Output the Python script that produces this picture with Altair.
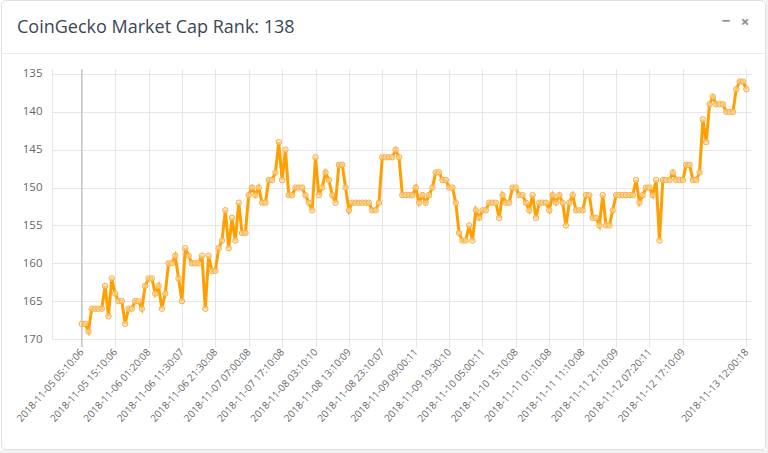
import json
import altair as alt
import pandas as pd

# ---------------- data ----------------
rank = [
    168, 168, 169, 166, 166, 166, 166, 163, 167, 162,
    164, 165, 165, 168, 166, 166, 165, 165, 166, 163,
    162, 162, 164, 163, 166, 164, 160, 160, 159, 162,
    165, 158, 159, 160, 160, 160, 159, 166, 159, 161,
    161, 158, 157, 153, 158, 154, 157, 152, 156, 156,
    151, 150, 151, 150, 152, 152, 149, 149, 148, 144,
    149, 145, 151, 151, 150, 150, 150, 151, 152, 153,
    146, 151, 150, 148, 149, 151, 152, 147, 147, 150,
    153, 152, 152, 152, 152, 152, 152, 153, 153, 152,
    146, 146, 146, 146, 145, 146, 151, 151, 151, 151,
    150, 152, 151, 152, 151, 150, 148, 148, 149, 149,
    150, 150, 152, 156, 157, 157, 155, 157, 153, 154,
    153, 153, 152, 152, 152, 154, 151, 152, 152, 150,
    150, 151, 151, 152, 153, 151, 154, 152, 152, 152,
    153, 151, 152, 151, 152, 155, 152, 151, 153, 153,
    153, 151, 151, 154, 154, 155, 151, 155, 155, 153,
    151, 151, 151, 151, 151, 151, 149, 152, 151, 150,
    150, 151, 149, 157, 149, 149, 149, 148, 149, 149,
    149, 147, 147, 149, 149, 148, 141, 144, 139, 138,
    139, 139, 139, 140, 140, 140, 137, 136, 136, 137,
]

tick_idx = [0, 10, 20, 30, 40, 50, 60, 70, 80, 90, 100, 110, 120, 130,
            140, 150, 160, 170, 180, 199]
tick_labels = [
    "2018-11-05 05:10:06", "2018-11-05 15:10:06", "2018-11-06 01:20:08",
    "2018-11-06 11:30:07", "2018-11-06 21:30:08", "2018-11-07 07:00:08",
    "2018-11-07 17:10:08", "2018-11-08 03:10:10", "2018-11-08 13:10:09",
    "2018-11-08 23:10:07", "2018-11-09 09:00:11", "2018-11-09 19:30:10",
    "2018-11-10 05:00:11", "2018-11-10 15:10:08", "2018-11-11 01:10:08",
    "2018-11-11 11:10:08", "2018-11-11 21:10:09", "2018-11-12 07:20:11",
    "2018-11-12 17:10:09", "2018-11-13 12:00:18",
]
y_ticks = [135, 140, 145, 150, 155, 160, 165, 170]
current_rank = 138
title_text = f"CoinGecko Market Cap Rank: {current_rank}"

df = pd.DataFrame({"i": list(range(len(rank))), "rank": rank})

# ---------------- layout ----------------
W, H = 700, 270
LEFT, TOP = 52, 69
GRID = "#e6e6e6"
LABEL = "#666666"
FONT = "Open Sans"

x_scale = alt.Scale(domain=[-8.9, 200.7], nice=False, zero=False)
y_scale = alt.Scale(domain=[134.34, 170], nice=False, zero=False, reverse=True)

label_expr = f"{json.dumps(tick_labels)}[indexof({json.dumps(tick_idx)}, datum.value)]"

x_axis = alt.Axis(
    values=tick_idx, labelExpr=label_expr, labelAngle=-48, labelAlign="right",
    labelBaseline="middle", labelFontSize=10, labelColor=LABEL, labelFont=FONT,
    tickSize=8, tickColor=GRID, gridColor=GRID, domain=False, title=None,
    labelPadding=3, labelOverlap=False, labelFlush=False, labelBound=False,
)
y_axis = alt.Axis(
    values=y_ticks, ticks=False, labelPadding=10, domainColor=GRID,
    gridColor=GRID, labelFontSize=11.5, labelColor=LABEL, labelFont=FONT,
    title=None, labelFlush=False, labelOverlap=False,
)

X = alt.X("i:Q", scale=x_scale, axis=x_axis)
Y = alt.Y("rank:Q", scale=y_scale, axis=y_axis)

base = alt.Chart(df).encode(x=X, y=Y)
line = base.mark_line(color="#FFA000", strokeWidth=3)
points = base.mark_circle(
    size=30, fill="#FFE0A8", fillOpacity=0.6, stroke="#F2AE4E", strokeWidth=1, opacity=1
)

zero_df = pd.DataFrame({"i": [0]})
zero_rule = alt.Chart(zero_df).mark_rule(color="#b8b8b8", strokeWidth=1).encode(
    x=X, y=alt.value(0), y2=alt.value(H + 8),
)

one = pd.DataFrame({"t": [title_text]})

border = alt.Chart(one).mark_rect(
    fillOpacity=0, stroke="#e0e0e0", strokeWidth=1, cornerRadius=4
).encode(x=alt.value(1 - LEFT + 0.5), x2=alt.value(765 - LEFT + 0.5),
         y=alt.value(-TOP + 0.5), y2=alt.value(449 - TOP + 0.5))

strip_r = alt.Chart(one).mark_rect(color="#f1f1f1").encode(
    x=alt.value(766 - LEFT), x2=alt.value(768 - LEFT),
    y=alt.value(-TOP), y2=alt.value(453 - TOP))
strip_b = alt.Chart(one).mark_rect(color="#f1f1f1").encode(
    x=alt.value(-LEFT), x2=alt.value(768 - LEFT),
    y=alt.value(450 - TOP), y2=alt.value(453 - TOP))

separator = alt.Chart(one).mark_rule(color="#ececec", strokeWidth=1).encode(
    x=alt.value(1 - LEFT), x2=alt.value(765 - LEFT), y=alt.value(53.5 - TOP))

title = alt.Chart(one).mark_text(
    align="left", baseline="alphabetic", fontSize=18, font=FONT, color="#3b4756"
).encode(x=alt.value(17 - LEFT), y=alt.value(33 - TOP), text="t:N")

icon_minus = alt.Chart(pd.DataFrame({"s": ["\u2212"]})).mark_text(
    align="center", baseline="middle", fontSize=15, fontWeight="bold", color="#8a8a8a", font=FONT
).encode(x=alt.value(726 - LEFT), y=alt.value(21 - TOP), text="s:N")
icon_x = alt.Chart(pd.DataFrame({"s": ["\u00d7"]})).mark_text(
    align="center", baseline="middle", fontSize=15, fontWeight="bold", color="#8a8a8a", font=FONT
).encode(x=alt.value(745 - LEFT), y=alt.value(22 - TOP), text="s:N")

chart = alt.layer(
    strip_r, strip_b, border, separator, title, icon_minus, icon_x,
    zero_rule, line, points,
).properties(
    width=W, height=H,
    autosize=alt.AutoSizeParams(type="none"),
    padding={"left": LEFT, "top": TOP, "right": 768 - LEFT - W, "bottom": 453 - TOP - H},
    background="white",
).configure_view(stroke=None)

chart.save("out.html", embed_options={"renderer": "svg", "actions": False})
